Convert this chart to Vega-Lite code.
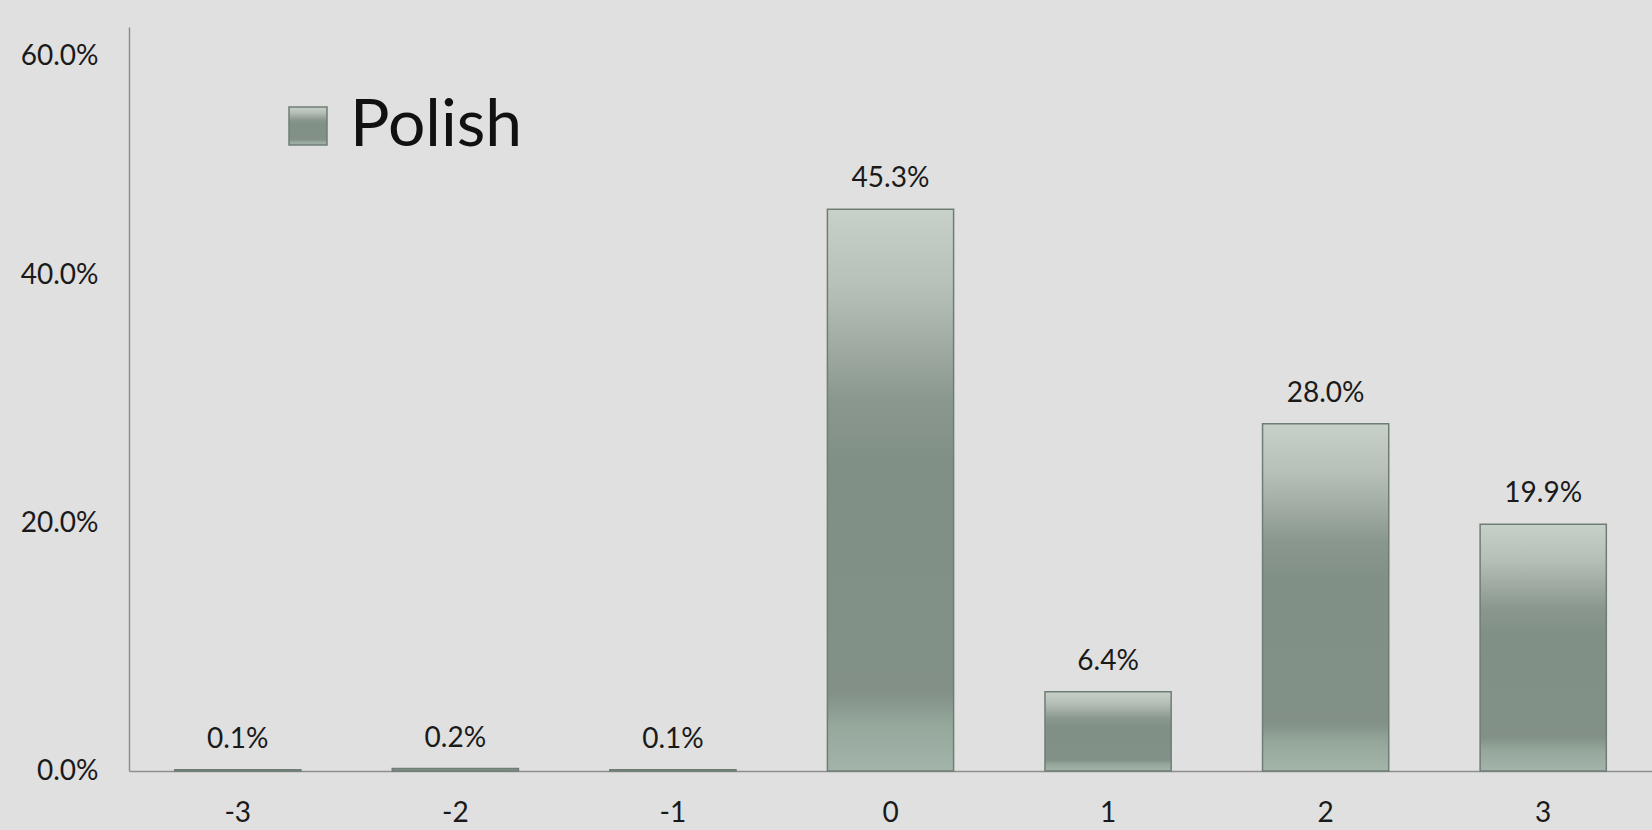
{
  "$schema": "https://vega.github.io/schema/vega-lite/v6.json",
  "autosize": {"type": "none"},
  "padding": {"left": 129, "top": 27, "right": 0, "bottom": 59},
  "width": 1523,
  "height": 744,
  "background": "#e0e0e0",
  "config": {
    "view": {"stroke": null},
    "font": "Lato",
    "axis": {"labelFont": "Lato", "labelColor": "#1a1a1a", "labelFontSize": 28, "domainColor": "#8e8e8e", "domainWidth": 1.5, "ticks": false, "grid": false, "title": null}
  },
  "data": {
    "values": [
      {"score": "-3", "share": 0.001},
      {"score": "-2", "share": 0.002},
      {"score": "-1", "share": 0.001},
      {"score": "0", "share": 0.453},
      {"score": "1", "share": 0.064},
      {"score": "2", "share": 0.280},
      {"score": "3", "share": 0.199}
    ]
  },
  "encoding": {
    "x": {
      "field": "score", "type": "ordinal", "sort": null,
      "scale": {"paddingInner": 0.42, "paddingOuter": 0.21},
      "axis": {"labelAngle": 0, "labelPadding": 28, "labelBaseline": "top"}
    },
    "y": {
      "field": "share", "type": "quantitative",
      "scale": {"domain": [0, 0.6], "nice": false},
      "axis": {"values": [0, 0.2, 0.4, 0.6], "format": ".1%", "labelPadding": 31, "labelOffset": {"condition": {"test": "datum.value >= 0.59", "value": 29}, "value": 0}}
    }
  },
  "layer": [
    {
      "mark": {
        "type": "bar",
        "strokeWidth": 1.5,
        "fill": {"gradient": "linear", "x1": 0, "y1": 0, "x2": 0, "y2": 1, "stops": [
          {"offset": 0, "color": "#c8d1c9"},
          {"offset": 0.14, "color": "#b6c0b8"},
          {"offset": 0.34, "color": "#8a978f"},
          {"offset": 0.45, "color": "#819087"},
          {"offset": 0.86, "color": "#829088"},
          {"offset": 0.92, "color": "#96a89c"},
          {"offset": 1, "color": "#a3b5aa"}
        ]}
      },
      "encoding": {
        "stroke": {
          "datum": "Polish", "type": "nominal",
          "scale": {"range": ["#6f7e75"]},
          "legend": {
            "title": null, "orient": "none", "legendX": 146, "legendY": 66, "padding": 0,
            "symbolType": "square", "symbolSize": 1444, "symbolStrokeWidth": 1.5,
            "labelFont": "Lato", "labelFontSize": 66, "labelColor": "#111111", "labelOffset": 9, "labelLimit": 0,
            "encode": {"symbols": {"update": {"fill": {"value": {"gradient": "linear", "x1": 0, "y1": 0, "x2": 0, "y2": 1, "stops": [
              {"offset": 0, "color": "#b0bab2"},
              {"offset": 0.3, "color": "#84928a"},
              {"offset": 1, "color": "#7f8d85"}
            ]}}}}}
          }
        }
      }
    },
    {
      "mark": {"type": "text", "baseline": "alphabetic", "dy": -22, "fontSize": 28, "font": "Lato", "color": "#1a1a1a"},
      "encoding": {
        "text": {"field": "share", "type": "quantitative", "format": ".1%"}
      }
    }
  ]
}
